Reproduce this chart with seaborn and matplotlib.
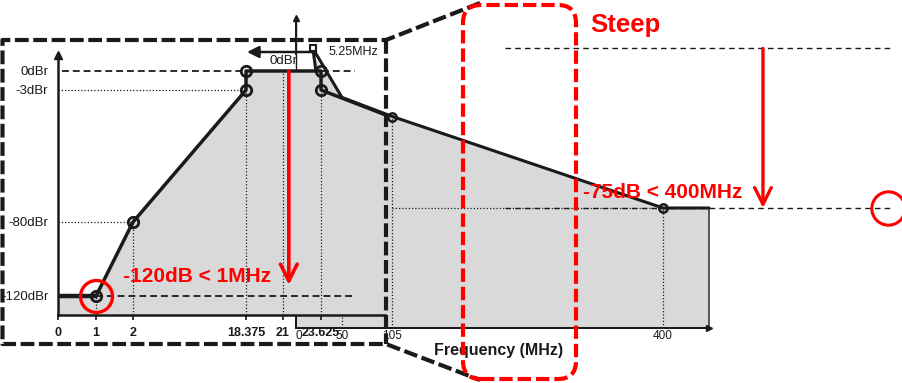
import numpy as np
import matplotlib
matplotlib.use("Agg")
import matplotlib.pyplot as plt
from matplotlib.lines import Line2D
from matplotlib.patches import FancyBboxPatch
import seaborn as sns

# 拡大図（帯域付近）のマスク: MHz / dBr
inset_freq = [0, 1, 2, 18.375, 18.375, 23.625, 23.625, 105]
inset_level = [-120, -120, -80, -3, 0, 0, -3, -18.75]
inset_mark_freq = [1, 2, 18.375, 18.375, 23.625, 23.625]
inset_mark_level = [-120, -80, -3, 0, 0, -3]
inset_xticks = [0, 1, 2, 18.375, 21, 23.625]
inset_xticklabels = ["0", "1", "2", "18.375", "21", "23.625"]
inset_yticks = [0, -3, -80, -120]
inset_yticklabels = ["0dBr", "-3dBr", "-80dBr", "-120dBr"]

# 全体のマスク（背面のグラフ）
main_freq = [21.7, 18.375, 50, 105, 400, 450]
main_level = [-10.6, 0, -23, -32, -75, -75]
main_xticks = [0, 50, 105, 400]
main_xticklabels = ["0", "50", "105", "400"]

GREY = "#d9d9d9"
RED = "#ff0000"
W, H = 902, 383

sns.set_theme(style="white", rc={"text.color": "k", "xtick.color": "k",
                                 "ytick.color": "k", "axes.labelcolor": "k"})
plt.rcParams["font.family"] = ["Liberation Sans", "DejaVu Sans"]

fig = plt.figure(figsize=(W / 100, H / 100), dpi=100)


def box(l, t, r, b):
    return [l / W, 1 - b / H, (r - l) / W, (b - t) / H]


def inch(x, y):
    return x / 100, (H - y) / 100


ax_main = fig.add_axes(box(296, 18, 709, 328))
ax_in = fig.add_axes(box(58, 55, 385, 315))
ax_main.set_zorder(0)
ax_in.set_zorder(1)

# 拡大図の軸は模式図なので区分線形のスケール
in_x_v = [0, 1, 2, 18.375, 21, 23.625, 105]
in_x_p = [58, 96, 133, 246, 283, 321, 391]
in_y_v = [-130.3, -120, -80, -3, 0, 2.5]
in_y_p = [-315, -296, -222, -90, -71, -55]
ax_in.set_xscale("function", functions=(lambda v: np.interp(v, in_x_v, in_x_p),
                                        lambda p: np.interp(p, in_x_p, in_x_v)))
ax_in.set_yscale("function", functions=(lambda v: np.interp(v, in_y_v, in_y_p),
                                        lambda p: np.interp(p, in_y_p, in_y_v)))

# ---- 背面のグラフ ----
ymin_main = -131.4
ax_main.set_xlim(0, 450)
ax_main.set_ylim(ymin_main, 14.3)
ax_main.fill(np.r_[0, main_freq, 450, 0],
             np.r_[main_level[0], main_level, ymin_main, ymin_main],
             facecolor=GREY, edgecolor="k", lw=1, clip_on=False, zorder=1)
dot = (0, (1, 1.6))
ax_main.vlines([50, 105, 400], ymin_main, [-23, -32, -75], colors="k", lw=0.9,
               linestyles=[dot], zorder=2)
ax_main.hlines(-75, 105, 400, colors="k", lw=0.9, linestyles=[dot], zorder=2)
for s in ["top", "right"]:
    ax_main.spines[s].set_visible(False)
for s in ["left", "bottom"]:
    ax_main.spines[s].set_color("k")
    ax_main.spines[s].set_linewidth(1.4)
ax_main.plot(1, 0, ">", color="k", ms=4, transform=ax_main.transAxes, clip_on=False)
ax_main.set_xticks(main_xticks, main_xticklabels)
ax_main.get_xticklabels()[0].set_ha("left")
ax_main.set_yticks([])
ax_main.tick_params(axis="x", length=0, pad=1.2, labelsize=8.5)
ax_main.set_xlabel("Frequency (MHz)", fontsize=11.5, weight="bold")
ax_main.xaxis.set_label_coords(0.4915, -0.048)

# Steep の注記
dash_thin = (0, (4, 3))
ax_main.hlines([0, -75], 227.7, 650.5, colors="k", lw=1, linestyles=[dash_thin],
               clip_on=False, zorder=3)
ax_main.annotate("", xy=(508.8, -75), xytext=(508.8, 0), annotation_clip=False,
                 arrowprops=dict(arrowstyle="->,head_length=0.6,head_width=0.3",
                                 color=RED, lw=2.4, mutation_scale=20,
                                 shrinkA=0, shrinkB=0))
ax_main.plot(645, -75, "o", ms=24, mfc="none", mec=RED, mew=2.2, clip_on=False, zorder=4)

# ---- 拡大図 ----
ax_in.set_facecolor("white")
ybot = in_y_v[0]
ax_in.fill_between(inset_freq, inset_level, ybot, color=GREY, lw=0, zorder=1)
sns.lineplot(x=inset_freq, y=inset_level, ax=ax_in, sort=False, estimator=None,
             color="k", lw=2.5, zorder=4)
ax_in.plot(inset_freq[:2], inset_level[:2], color="k", lw=3.2, zorder=4)
ax_in.set_xlim(0, 98)
ax_in.set_ylim(ybot, 2.5)

# 背面グラフのピーク部分（拡大図の上に見える三角形）
to_in = ax_main.transData + ax_in.transData.inverted()
peak = to_in.transform(np.column_stack([main_freq[:3], main_level[:3]]))
tri = np.vstack([peak, [[23.625, -3], [23.625, 0]]])
ax_in.fill(tri[:, 0], tri[:, 1], color=GREY, lw=0, zorder=1)

dash = (0, (3.8, 2.2))
ax_in.hlines([0, -120], [0.1, 1], [63, 63], colors="k", lw=1.3,
             linestyles=[dash], zorder=2)
ax_in.hlines([-3, -80], 0, [18.375, 2], colors="k", lw=0.9, linestyles=[dot], zorder=2)
ax_in.vlines([1, 2, 18.375, 21, 23.625], ybot, [-120, -80, -3, 0, -3], colors="k",
             lw=0.9, linestyles=[dot], zorder=2)
ax_in.plot(inset_mark_freq, inset_mark_level, "o", ls="none", ms=7.5, mfc="none",
           mec="k", mew=2, zorder=5)

for s in ["top", "right"]:
    ax_in.spines[s].set_visible(False)
for s in ["left", "bottom"]:
    ax_in.spines[s].set_color("k")
    ax_in.spines[s].set_linewidth(1.8)
ax_in.plot(0, 1, "^", color="k", ms=6, transform=ax_in.transAxes, clip_on=False)
ax_in.set_xticks(inset_xticks, inset_xticklabels)
ax_in.set_yticks(inset_yticks, inset_yticklabels)
ax_in.tick_params(axis="x", direction="out", length=3.6, width=1.2, pad=5,
                  labelsize=9, bottom=True)
for t in ax_in.get_xticklabels():
    t.set_fontweight("bold")
ax_in.tick_params(axis="y", length=0, pad=7, labelsize=9.5)
ax_in.set_xlabel("")
ax_in.set_ylabel("")

# 背面グラフの曲線・軸は手前に描く
mt = ax_main.transData
ax_in.plot(main_freq, main_level, color="k", lw=2.2, transform=mt, clip_on=False, zorder=6)
ax_in.plot([18.375], [0], "s", ms=5, mfc="white", mec="k", mew=1.5,
           transform=mt, clip_on=False, zorder=7)
ax_in.plot([105, 400], [-32, -75], "o", ls="none", ms=6, mfc="none", mec="k",
           mew=1.8, transform=mt, clip_on=False, zorder=7)
ax_in.plot([0, 0], [main_level[0], 14.3], color="k", lw=1, transform=mt,
           clip_on=False, zorder=6)
ax_in.plot([0], [14.3], "^", color="k", ms=4, transform=mt, clip_on=False, zorder=6)

# 赤い注記（拡大図）
ax_in.plot(1, -120, "o", ms=23, mfc="none", mec=RED, mew=2.4, zorder=8)
ax_in.annotate("", xy=(21.4, -114), xytext=(21.4, 0),
               arrowprops=dict(arrowstyle="->,head_length=0.6,head_width=0.3",
                               color=RED, lw=2.6, mutation_scale=20,
                               shrinkA=0, shrinkB=0), zorder=8)
ax_in.annotate("", xy=inch(247, 52), xytext=inch(313, 52),
               xycoords=fig.dpi_scale_trans, textcoords=fig.dpi_scale_trans,
               annotation_clip=False,
               arrowprops=dict(arrowstyle="-|>,head_length=0.5,head_width=0.25",
                               color="k", lw=1.8, mutation_scale=14,
                               shrinkA=0, shrinkB=0), zorder=8)

fig.text(283 / W, 1 - 61 / H, "0dBr", fontsize=9.5, ha="center", va="center")
fig.text(353 / W, 1 - 52 / H, "5.25MHz", fontsize=9, ha="center", va="center")
fig.text(197 / W, 1 - 277 / H, "-120dB < 1MHz", fontsize=15, weight="bold",
         color=RED, ha="center", va="center", zorder=9)
fig.text(663 / W, 1 - 193 / H, "-75dB < 400MHz", fontsize=15, weight="bold",
         color=RED, ha="center", va="center", zorder=9)
fig.text(625 / W, 1 - 25 / H, "Steep", fontsize=18.5, weight="bold",
         color=RED, ha="center", va="center", zorder=9)

# 拡大枠と接続線
frame_style = dict(color="k", lw=3, linestyle=(0, (3.3, 1.1)),
                   transform=fig.dpi_scale_trans, zorder=10)
pts = [inch(480, 3), inch(386, 40), inch(2.5, 40), inch(2.5, 344),
       inch(386, 344), inch(480, 380)]
fig.add_artist(Line2D([p[0] for p in pts], [p[1] for p in pts], **frame_style))
r1, r2 = inch(386, 40), inch(386, 344)
fig.add_artist(Line2D([r1[0], r2[0]], [r1[1], r2[1]], **frame_style))

# Steep の赤い点線枠
x0, y0 = inch(463, 379)
x1, y1 = inch(576, 5)
fig.add_artist(FancyBboxPatch((x0, y0), x1 - x0, y1 - y0,
                              boxstyle="round,pad=0,rounding_size=0.18",
                              transform=fig.dpi_scale_trans, fill=False,
                              edgecolor=RED, lw=3, linestyle=(0, (3.2, 1.2)),
                              zorder=11))

fig.savefig("out.png", dpi=100)
